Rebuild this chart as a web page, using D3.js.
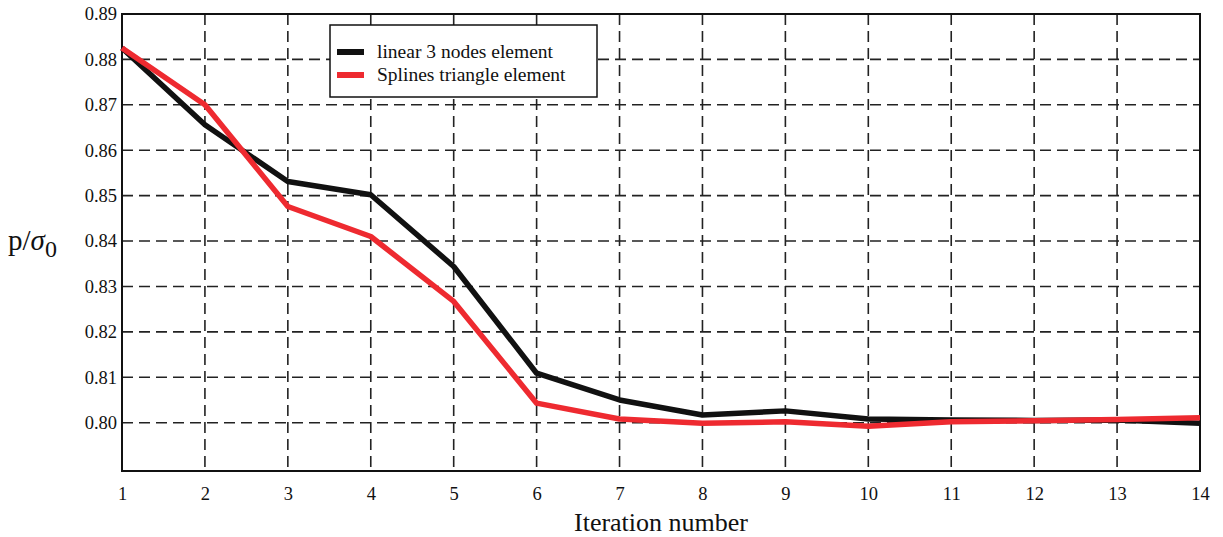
<!DOCTYPE html>
<html lang="en">
<head>
<meta charset="UTF-8">
<title>p/sigma0 vs iteration</title>
<script src="https://d3js.org/d3.v7.min.js"></script>
<style>
    body { margin: 0; background: #fff; }
    text { font-family: "Liberation Serif", "DejaVu Serif", serif; fill: #111; }
</style>
</head>
<body>
<svg width="1223" height="537"></svg>
<script>
const iterations = [1, 2, 3, 4, 5, 6, 7, 8, 9, 10, 11, 12, 13, 14];
const linear3 = [0.8825, 0.8656, 0.8531, 0.8502, 0.8344, 0.8109, 0.8050, 0.8017, 0.8026, 0.8008, 0.8006, 0.8005, 0.8006, 0.7999];
const splines = [0.8825, 0.8700, 0.8476, 0.8410, 0.8267, 0.8043, 0.8008, 0.7999, 0.8002, 0.7992, 0.8002, 0.8004, 0.8007, 0.8011];
const yTicks = [0.80, 0.81, 0.82, 0.83, 0.84, 0.85, 0.86, 0.87, 0.88, 0.89];
const seriesNames = ["linear 3 nodes element", "Splines triangle element"];
const seriesColors = ["#111111", "#ee2a30"];

const margin = {top: 14, right: 23, bottom: 66, left: 122};
const width = 1223 - margin.left - margin.right;
const height = 537 - margin.top - margin.bottom;

const svg = d3.select("svg")
    .append("g")
    .attr("transform", "translate(" + margin.left + "," + margin.top + ")");

const x = d3.scaleLinear().domain([1, 14]).range([0, width]);
const y = d3.scaleLinear().domain([0.78936, 0.89]).range([height, 0]);

// grid
svg.append("g").selectAll("line")
    .data(yTicks)
    .enter().append("line")
    .attr("x1", 0).attr("x2", width)
    .attr("y1", d => y(d)).attr("y2", d => y(d))
    .attr("stroke", "#222").attr("stroke-width", 1.6)
    .attr("stroke-dasharray", "11,6");

svg.append("g").selectAll("line")
    .data(iterations.slice(1, -1))
    .enter().append("line")
    .attr("x1", d => x(d)).attr("x2", d => x(d))
    .attr("y1", 0).attr("y2", height)
    .attr("stroke", "#222").attr("stroke-width", 1.6)
    .attr("stroke-dasharray", "11,6");

// axes
const xAxis = svg.append("g")
    .attr("transform", "translate(0," + height + ")")
    .call(d3.axisBottom(x).tickValues(iterations).tickFormat(d3.format("d")).tickSize(0).tickPadding(16));
const yAxis = svg.append("g")
    .call(d3.axisLeft(y).tickValues(yTicks).tickFormat(d3.format(".2f")).tickSize(0).tickPadding(5));
[xAxis, yAxis].forEach(a => {
    a.select(".domain").remove();
    a.selectAll("text").style("font-size", "18.5px").style("font-family", "Liberation Serif, serif").attr("fill", "#111");
});

// frame
svg.append("rect")
    .attr("width", width).attr("height", height)
    .attr("fill", "none").attr("stroke", "#111").attr("stroke-width", 2);

// lines
const line = d3.line().x((d, i) => x(iterations[i])).y(d => y(d));
[linear3, splines].forEach((s, k) => {
    svg.append("path")
        .datum(s)
        .attr("fill", "none")
        .attr("stroke", seriesColors[k])
        .attr("stroke-width", 5.5)
        .attr("stroke-linejoin", "round")
        .attr("d", line);
});

// legend
const lg = svg.append("g").attr("transform", "translate(" + (330 - margin.left) + "," + (25 - margin.top) + ")");
lg.append("rect").attr("width", 267).attr("height", 72)
    .attr("fill", "#fff").attr("stroke", "#111").attr("stroke-width", 1.5);
seriesNames.forEach((name, i) => {
    lg.append("line")
        .attr("x1", 7).attr("x2", 34)
        .attr("y1", 27 + i * 23).attr("y2", 27 + i * 23)
        .attr("stroke", seriesColors[i]).attr("stroke-width", 6);
    lg.append("text")
        .attr("x", 47).attr("y", 33 + i * 23)
        .style("font-size", "19.5px")
        .text(name);
});

// axis titles
svg.append("text")
    .attr("x", width / 2).attr("y", height + 60)
    .attr("text-anchor", "middle")
    .style("font-size", "26px")
    .text("Iteration number");

const yl = svg.append("text")
    .attr("x", 8 - margin.left).attr("y", 250 - margin.top)
    .style("font-size", "29px");
yl.append("tspan").text("p/");
yl.append("tspan").style("font-style", "italic").text("σ");
yl.append("tspan").attr("dy", 7).style("font-size", "24px").text("0");
</script>
</body>
</html>
